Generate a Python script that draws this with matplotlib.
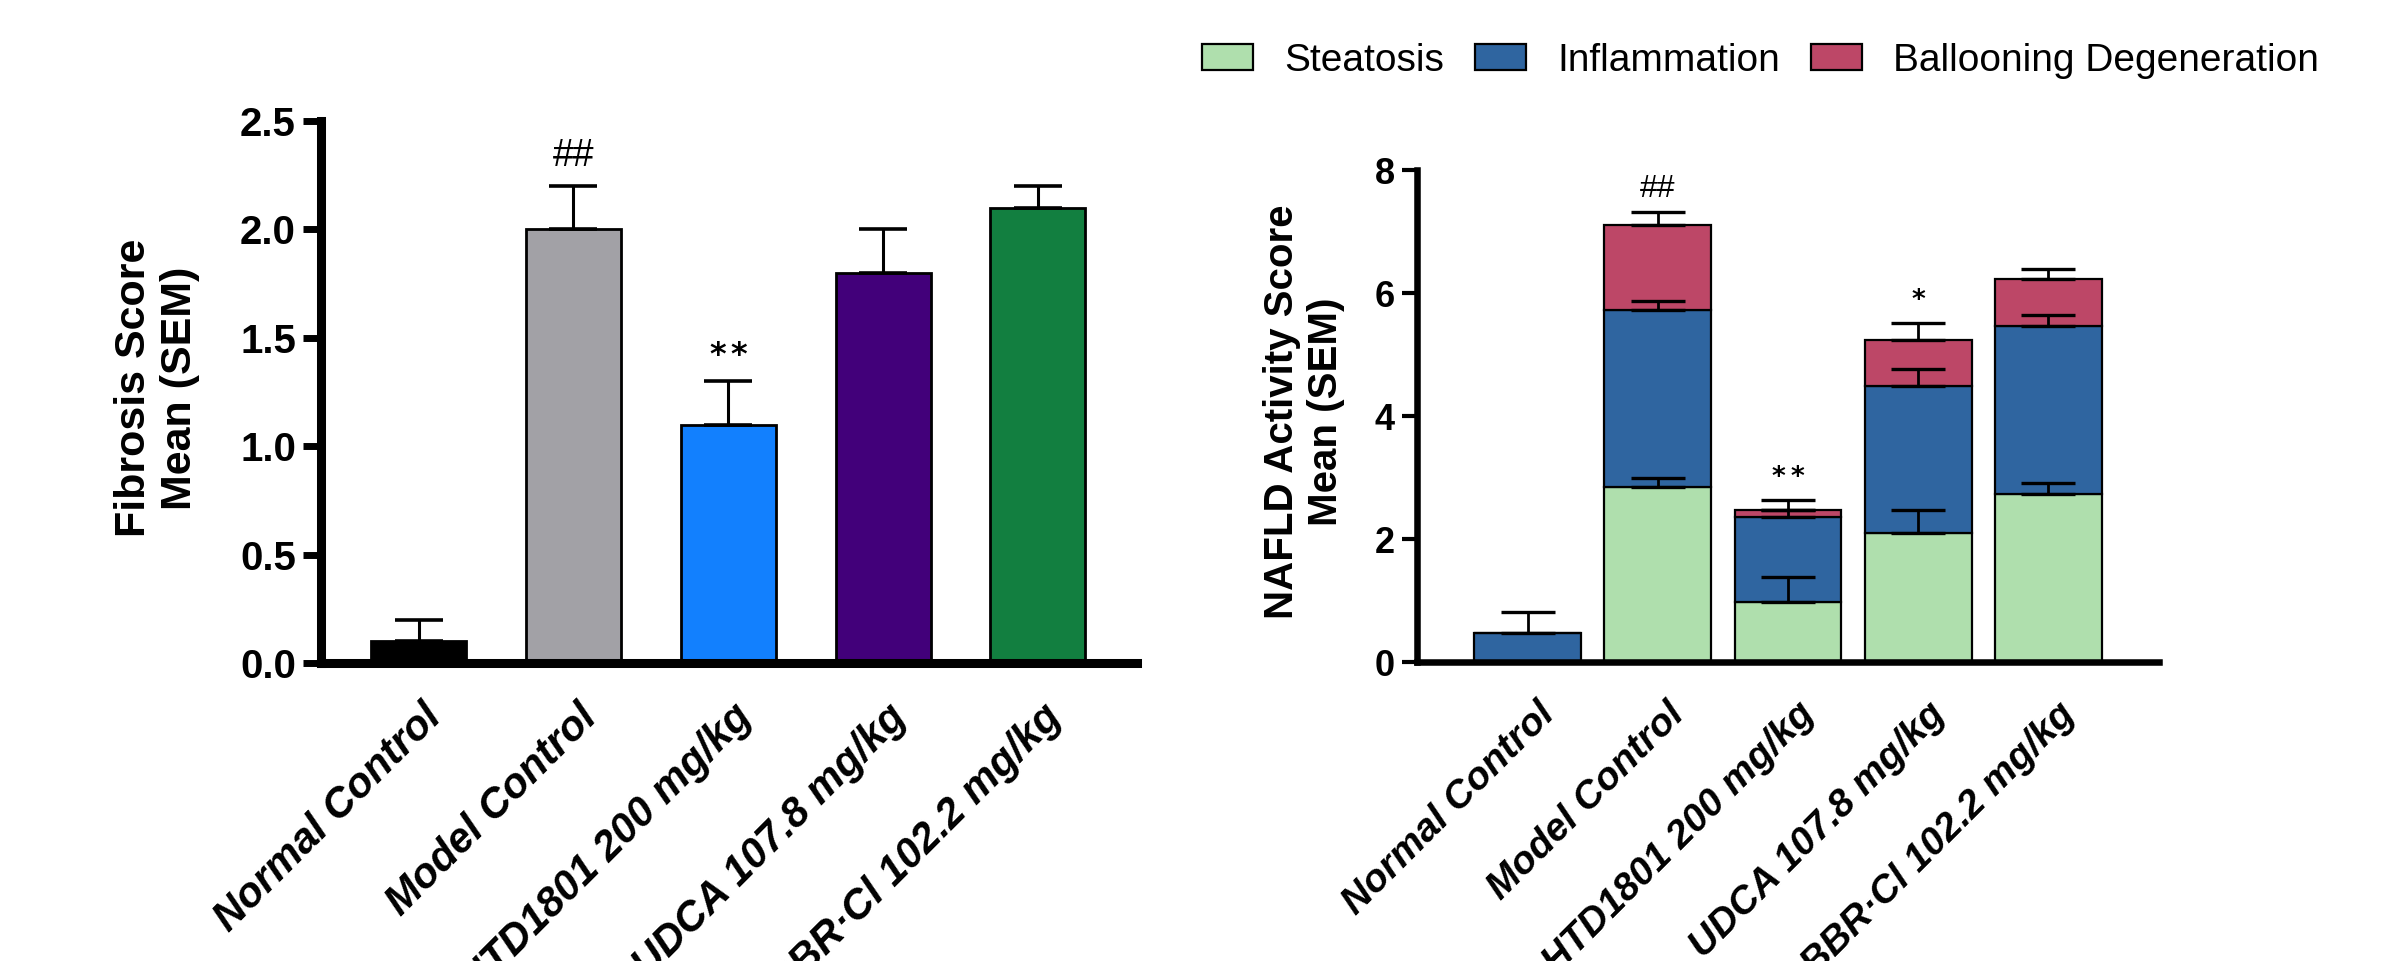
import numpy as np
import matplotlib.pyplot as plt
from matplotlib.transforms import ScaledTranslation

groups = ["Normal Control", "Model Control", "HTD1801 200 mg/kg",
          "UDCA 107.8 mg/kg", "BBR·Cl 102.2 mg/kg"]

# left panel: fibrosis score
fib_mean = [0.1, 2.0, 1.1, 1.8, 2.1]
fib_sem = [0.1, 0.2, 0.2, 0.2, 0.1]
fib_marks = ["", "##", "**", "", ""]
bar_colors = ["#000000", "#a2a1a6", "#1280fe", "#42007a", "#127f40"]

# right panel: NAFLD activity score, stacked
steatosis = [0.0, 2.85, 0.98, 2.10, 2.73]
steatosis_sem = [0.0, 0.15, 0.40, 0.38, 0.18]
inflammation = [0.48, 2.87, 1.37, 2.38, 2.74]
inflammation_sem = [0.33, 0.15, 0.12, 0.28, 0.18]
ballooning = [0.0, 1.38, 0.13, 0.76, 0.75]
ballooning_sem = [0.0, 0.21, 0.15, 0.27, 0.17]
nas_marks = ["", "##", "**", "*", ""]
layer_names = ["Steatosis", "Inflammation", "Ballooning Degeneration"]
layer_colors = ["#afdfad", "#2f65a0", "#bd4767"]

plt.rcParams['font.family'] = ['Liberation Sans', 'DejaVu Sans']

fig = plt.figure(figsize=(24.08, 9.61), dpi=100)
ax1 = fig.add_axes([0.1333, 0.3101, 0.3389, 0.564])
ax2 = fig.add_axes([0.5885, 0.3111, 0.3081, 0.512])

x = np.arange(len(groups))


def up_errors(ax, xs, tops, sems, capsize, lw, capw):
    # SEM drawn upward only, as in the original figure
    xs = np.asarray(xs)
    tops = np.asarray(tops, dtype=float)
    sems = np.asarray(sems, dtype=float)
    m = sems > 0
    ax.errorbar(xs[m], tops[m], yerr=[np.zeros(m.sum()), sems[m]], fmt='none',
                ecolor='black', elinewidth=lw, capsize=capsize, capthick=capw,
                zorder=4)


def style_axes(ax, spine_w, tick_len, tick_w, ylab_size, xlab_size, pad_x, dx):
    for s in ['top', 'right']:
        ax.spines[s].set_visible(False)
    for s in ['left', 'bottom']:
        ax.spines[s].set_linewidth(spine_w)
        ax.spines[s].set_zorder(5)
    ax.tick_params(axis='y', length=tick_len, width=tick_w, labelsize=ylab_size, pad=5)
    ax.tick_params(axis='x', length=0, pad=pad_x)
    for lbl in ax.get_yticklabels():
        lbl.set_fontweight('bold')
    ax.set_xticks(x)
    labels = ax.set_xticklabels(groups, rotation=45, ha='right', va='top',
                                rotation_mode='anchor', fontsize=xlab_size,
                                fontweight='bold', fontstyle='italic')
    for lbl in labels:
        lbl.set_transform(lbl.get_transform() + ScaledTranslation(dx, 0, fig.dpi_scale_trans))


def add_marks(ax, marks, tops, size_hash, off_hash, size_star, off_star, star_gap):
    for xi, m, t in zip(x, marks, tops):
        if not m:
            continue
        if '#' in m:
            ax.annotate(m, (xi, t), xytext=(0, off_hash), textcoords='offset points',
                        ha='center', va='baseline', fontsize=size_hash)
        else:
            # stars set one by one, GraphPad spaces them a bit apart
            n = len(m)
            for k in range(n):
                ax.annotate('*', (xi, t), xytext=((k - (n - 1) / 2) * star_gap, off_star),
                            textcoords='offset points', ha='center', va='baseline',
                            fontsize=size_star, family='DejaVu Sans', fontweight='bold')


# ---- left: fibrosis
ax1.bar(x, fib_mean, width=0.614, color=bar_colors, edgecolor='black',
        linewidth=2, zorder=2)
up_errors(ax1, x, fib_mean, fib_sem, capsize=17, lw=2.2, capw=2.6)
ax1.set_xlim(-0.63, 4.64)
ax1.set_ylim(0, 2.5)
ax1.set_yticks(np.arange(0, 2.51, 0.5))
ax1.yaxis.set_major_formatter('{x:.1f}')
style_axes(ax1, 6.5, 13, 5, 29, 30, 24.5, 0.03)
add_marks(ax1, fib_marks, np.add(fib_mean, fib_sem), 27, 14.5, 23, 12, 15)
ax1.text(-0.201, 0.507, "Fibrosis Score\nMean (SEM)", transform=ax1.transAxes,
         rotation=90, ha='center', va='center', fontsize=31, fontweight='bold')

# ---- right: stacked NAS
bottom = np.zeros(len(groups))
handles = []
tops = []
for vals, name, col in zip([steatosis, inflammation, ballooning], layer_names, layer_colors):
    b = ax2.bar(x, vals, bottom=bottom, width=0.82, color=col, edgecolor='black',
                linewidth=1.6, zorder=2, label=name)
    handles.append(b)
    bottom = bottom + np.asarray(vals)
    tops.append(bottom.copy())
for top, sem in zip(tops, [steatosis_sem, inflammation_sem, ballooning_sem]):
    up_errors(ax2, x, top, sem, capsize=19.5, lw=2.0, capw=2.4)
ax2.set_xlim(-0.848, 4.85)
ax2.set_ylim(0, 8)
ax2.set_yticks([0, 2, 4, 6, 8])
style_axes(ax2, 4.7, 11, 3, 26, 28, 24.5, 0.085)
add_marks(ax2, nas_marks, tops[-1] + np.asarray(ballooning_sem), 23, 11.2, 19, 11, 13.7)
ax2.text(-0.152, 0.509, "NAFLD Activity Score\nMean (SEM)", transform=ax2.transAxes,
         rotation=90, ha='center', va='center', fontsize=29, fontweight='bold')

fig.legend(handles, layer_names, loc='center left', bbox_to_anchor=(0.4992, 0.937),
           ncol=3, frameon=False, fontsize=28, handlelength=1.31, handleheight=0.64,
           handletextpad=0.8, columnspacing=0.8, borderpad=0, borderaxespad=0)

fig.savefig("out.png", dpi=100)
